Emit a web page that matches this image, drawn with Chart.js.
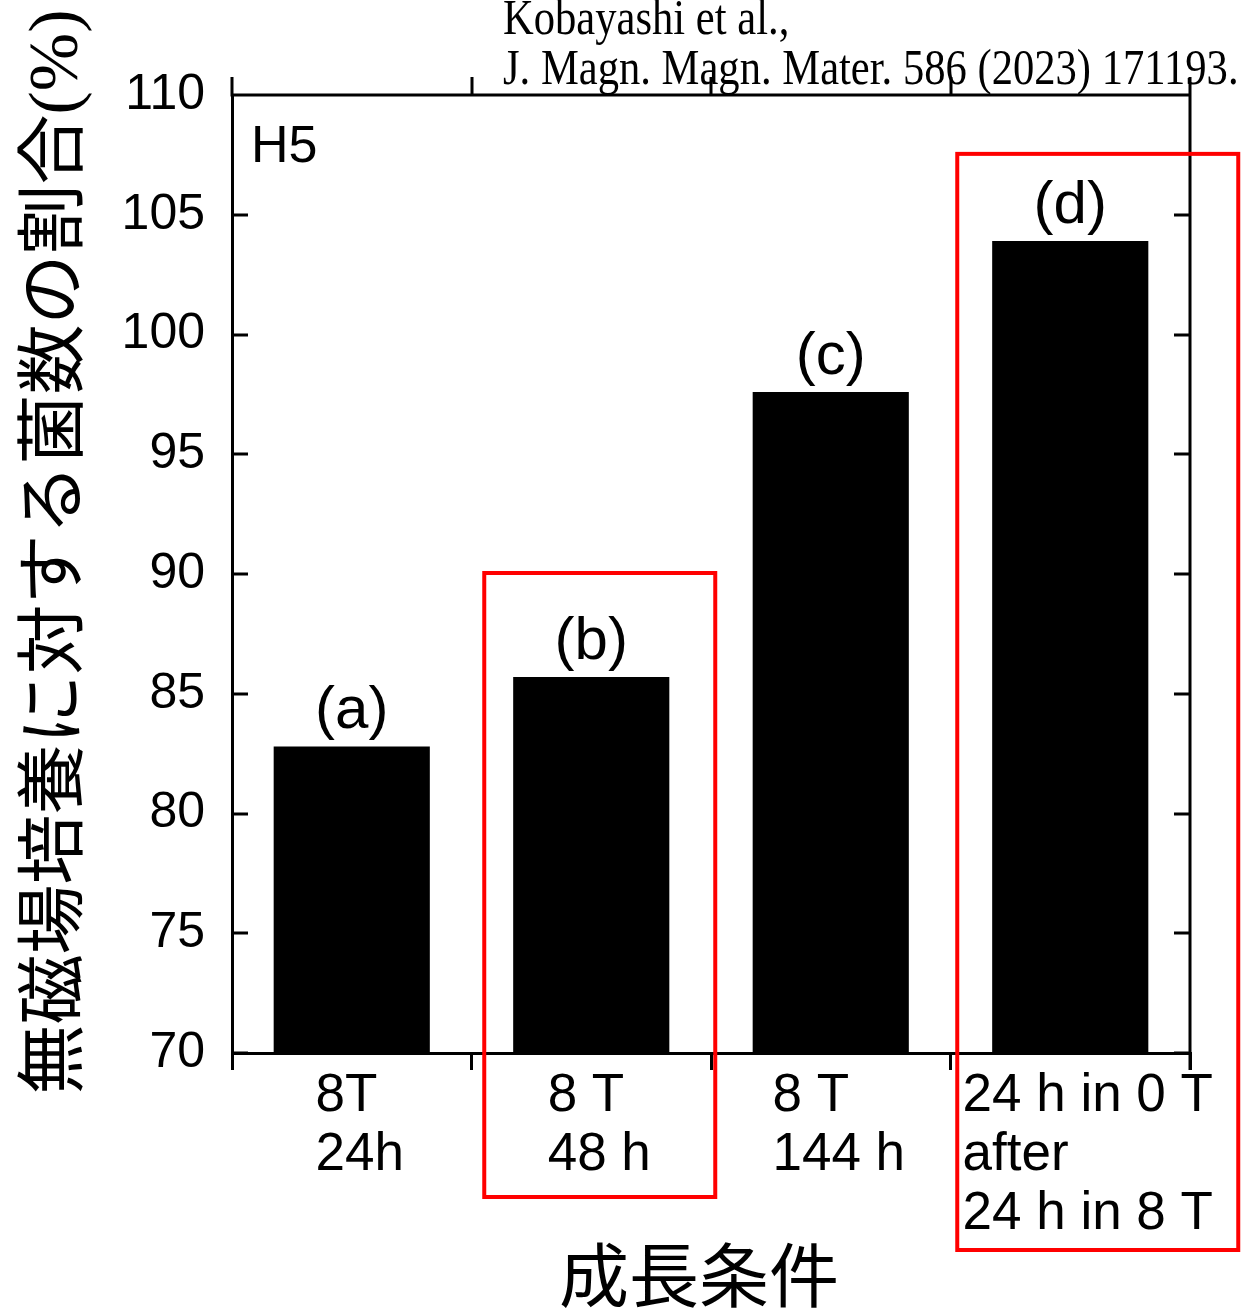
<!DOCTYPE html>
<html>
<head>
<meta charset="utf-8">
<script src="https://cdn.jsdelivr.net/npm/chart.js@4/dist/chart.umd.min.js"></script>
<style>
  html, body { margin: 0; padding: 0; background: #ffffff; }
  #wrap { width: 1249px; height: 1311px; }
</style>
</head>
<body>
<div id="wrap"><canvas id="c" width="1249" height="1311"></canvas></div>
<script>
// Growth conditions (one entry per bar, each line of the label as a string)
const categories = [
  ["8T", "24h"],
  ["8 T", "48 h"],
  ["8 T", "144 h"],
  ["24 h in 0 T", "after", "24 h in 8 T"]
];
// Tags written above each bar
const barTags = ["(a)", "(b)", "(c)", "(d)"];
// Bacterial count relative to the zero-field culture (%)
const ratios = [82.8, 85.7, 97.6, 103.9];
// Value-axis ticks
const yTicks = [70, 75, 80, 85, 90, 95, 100, 105, 110];
// Conditions boxed in red
const highlighted = [1, 3];

const yTitle = "無磁場培養に対する菌数の割合(%)";
const xTitle = "成長条件";
const panelTag = "H5";
const citation = ["Kobayashi et al.,", "J. Magn. Magn. Mater. 586 (2023) 171193."];

const SANS = "'Liberation Sans', Arial, sans-serif";
const CJK = "'Liberation Serif', 'Noto Sans CJK JP', sans-serif";
const LW = 3;

// Frame, inward ticks, labels and annotations drawn around the bars
const decorations = {
  id: 'decorations',
  afterDraw(chart) {
    const ctx = chart.ctx;
    const x = chart.scales.x, y = chart.scales.y;
    const a = chart.chartArea;
    const n = categories.length;
    const step = (a.right - a.left) / n;
    ctx.save();
    ctx.strokeStyle = '#000';
    ctx.lineWidth = LW;
    ctx.lineCap = 'butt';

    // top border and right border
    ctx.beginPath();
    ctx.moveTo(a.left - LW / 2, a.top);
    ctx.lineTo(a.right + LW / 2, a.top);
    ctx.moveTo(a.right, a.top - 18);
    ctx.lineTo(a.right, a.bottom + 17);
    // outward ticks on the top edge at category boundaries
    for (let i = 0; i <= n; i++) {
      const px = Math.round(a.left + i * step);
      ctx.moveTo(px, a.top);
      ctx.lineTo(px, a.top - 18);
    }
    // inward value ticks on left and right edges
    yTicks.forEach(v => {
      const py = Math.round(y.getPixelForValue(v));
      ctx.moveTo(a.left, py);
      ctx.lineTo(a.left + 16, py);
      ctx.moveTo(a.right, py);
      ctx.lineTo(a.right - 16, py);
    });
    ctx.stroke();

    // category labels, lines left-aligned as a block near the bar centre
    ctx.fillStyle = '#000';
    ctx.font = '53px ' + SANS;
    ctx.textAlign = 'left';
    ctx.textBaseline = 'alphabetic';
    categories.forEach((lines, i) => {
      const cx = x.getPixelForValue(i);
      const w = Math.max(...lines.map(s => ctx.measureText(s).width));
      const x0 = Math.max(cx - w / 2 + 8, a.left + i * step + 12);
      lines.forEach((s, k) => ctx.fillText(s, x0, a.bottom + 58 + k * 59));
    });

    // tags above the bars
    const meta = chart.getDatasetMeta(0);
    ctx.font = '60px ' + SANS;
    ctx.textAlign = 'center';
    meta.data.forEach((bar, i) => {
      ctx.fillText(barTags[i], bar.x, bar.y - 18);
    });

    // panel tag
    ctx.font = '52px ' + SANS;
    ctx.textAlign = 'left';
    ctx.fillText(panelTag, a.left + 19, a.top + 67);

    // citation
    ctx.font = '50px ' + "'Liberation Serif', 'Times New Roman', serif";
    citation.forEach((s, k) => {
      ctx.save();
      ctx.translate(503, 34 + k * 50);
      ctx.scale(0.852, 1);
      ctx.fillText(s, 0, 0);
      ctx.restore();
    });

    // axis titles
    ctx.font = '70px ' + CJK;
    ctx.textAlign = 'center';
    ctx.textBaseline = 'middle';
    ctx.save();
    ctx.translate(59, 552);
    ctx.rotate(-Math.PI / 2);
    ctx.fillText(yTitle, 0, 0);
    ctx.restore();
    ctx.fillText(xTitle, 699, 1284);

    // red boxes around highlighted conditions
    ctx.strokeStyle = '#ff0000';
    ctx.lineWidth = 4;
    ctx.lineJoin = 'miter';
    highlighted.forEach(i => {
      const cx = x.getPixelForValue(i);
      let l, r, t, b;
      if (i === 1) {
        l = cx - 107; r = cx + 124; t = y.getPixelForValue(90) - 1; b = 1197;
      } else {
        l = cx - 113; r = cx + 168; t = y.getPixelForValue(107.5) - 1; b = 1250;
      }
      ctx.strokeRect(l, t, r - l, b - t);
    });
    ctx.restore();
  }
};

new Chart(document.getElementById('c'), {
  type: 'bar',
  data: {
    labels: categories,
    datasets: [{
      data: ratios,
      backgroundColor: '#000000',
      borderWidth: 0,
      barPercentage: 0.652,
      categoryPercentage: 1.0
    }]
  },
  options: {
    responsive: false,
    animation: false,
    devicePixelRatio: 1,
    layout: { padding: { top: 95, right: 59, left: 0, bottom: 0 } },
    plugins: { legend: { display: false }, tooltip: { enabled: false } },
    scales: {
      x: {
        type: 'category',
        offset: true,
        afterFit(s) { s.height = 258; },
        grid: {
          display: true,
          offset: true,
          drawOnChartArea: false,
          drawTicks: true,
          tickLength: 17,
          color: '#000',
          lineWidth: LW
        },
        border: { display: true, color: '#000', width: LW },
        ticks: { display: false }
      },
      y: {
        min: 70,
        max: 110,
        afterFit(s) { s.width = 232; },
        afterBuildTicks(s) { s.ticks = yTicks.map(v => ({ value: v })); },
        grid: { display: false, drawTicks: false },
        border: { display: true, color: '#000', width: LW },
        ticks: {
          color: '#000',
          padding: 27,
          font: { family: SANS, size: 50 }
        }
      }
    }
  },
  plugins: [decorations]
});
</script>
</body>
</html>
